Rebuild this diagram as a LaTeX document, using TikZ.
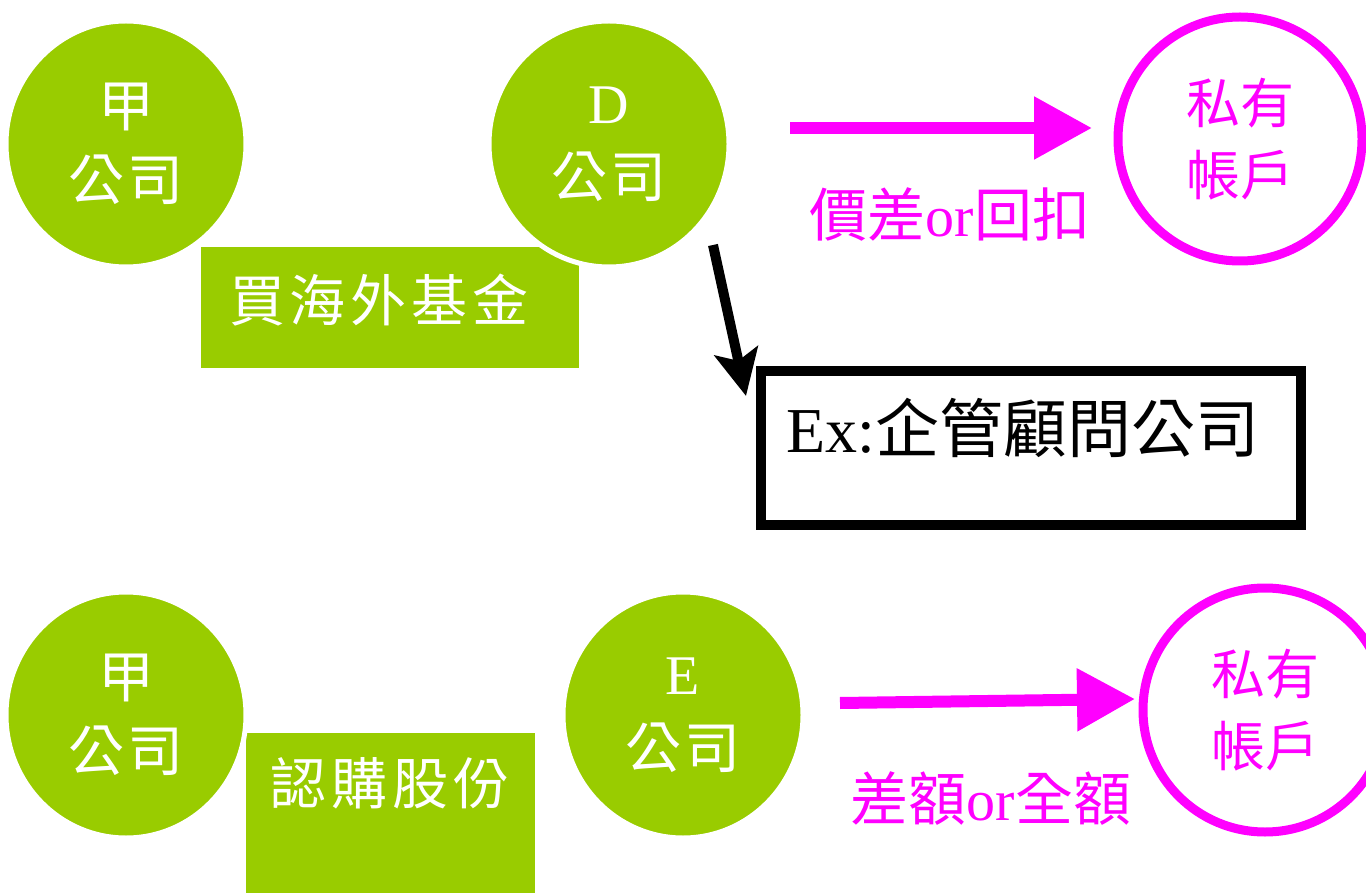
\documentclass[tikz,border=0pt]{standalone}
\usepackage{fontspec}
\setmainfont{Liberation Serif}
\newfontfamily\cjk{Noto Sans CJK TC}
\usetikzlibrary{arrows.meta,shapes.geometric}
\definecolor{grn}{HTML}{99CC00}
\definecolor{mag}{HTML}{FF00FF}
\newcommand{\gp}{\kern5pt}
\tikzset{
  company/.style={ellipse, fill=grn, draw=white, line width=5pt, minimum width=240pt, minimum height=246pt, inner sep=0pt, text=white, align=center, font=\fontsize{56}{74}\selectfont\cjk},
  greenbox/.style={rectangle, fill=grn, inner sep=0pt},
  boxtext/.style={text=white, font=\fontsize{56}{60}\selectfont\cjk, inner sep=0pt},
  account/.style={circle, draw=mag, line width=9pt, minimum size=244pt, inner sep=0pt, text=mag, align=center, font=\fontsize{54}{72}\selectfont\cjk},
  magarrow/.style={draw=mag, line width=12pt, -{Triangle[length=58pt,width=60pt]}},
  blkarrow/.style={draw=black, line width=10pt, -{Stealth[length=46pt,width=44pt,inset=10pt]}},
  maglabel/.style={text=mag, font=\fontsize{58}{60}\selectfont, inner sep=0pt},
}
\begin{document}
\begin{tikzpicture}[x=1pt,y=-1pt]
\useasboundingbox (0,0) rectangle (1366,893);
% top row
\node[greenbox, minimum width=378pt, minimum height=121pt] (buy) at (390,308) {};
\node[boxtext] (buyt) at (379,300) {買\gp 海\gp 外\gp 基\gp 金};
\node[company] (jiaA) at (126,144) {甲\\公\kern3pt 司};
\node[company] (D) at (609,144) {{\rmfamily D}\\公\kern3pt 司};
\node[account] (accA) at (1240,139) {私有\\帳戶};
\coordinate (a1s) at (790,128);
\coordinate (a1e) at (1092,128);
\draw[magarrow] (a1s) -- (a1e);
\node[maglabel] (lab1) at (950,214) {{\cjk 價差}or{\cjk 回扣}};
% consulting box
\node[draw=black, line width=10pt, minimum width=540pt, minimum height=154pt, inner sep=0pt] (ex) at (1031,448) {};
\node[anchor=west, font=\fontsize{64}{70}\selectfont, inner sep=0pt] (ext) at (786,428) {Ex:{\cjk 企管顧問公司}};
\coordinate (b1s) at (713,245);
\coordinate (b1e) at (746,396);
\draw[blkarrow] (b1s) -- (b1e);
% bottom row
\node[greenbox, minimum width=289pt, minimum height=165pt] (sub) at (390,815) {};
\node[boxtext] (subt) at (390,783) {認\gp 購\gp 股\gp 份};
\node[company] (jiaB) at (126,715) {甲\\公\kern3pt 司};
\node[company] (E) at (683,715) {{\rmfamily E}\\公\kern3pt 司};
\node[account] (accB) at (1265,710) {私有\\帳戶};
\coordinate (a2s) at (840,703);
\coordinate (a2e) at (1135,699);
\draw[magarrow] (a2s) -- (a2e);
\node[maglabel] (lab2) at (991,799) {{\cjk 差額}or{\cjk 全額}};
\end{tikzpicture}
\end{document}
